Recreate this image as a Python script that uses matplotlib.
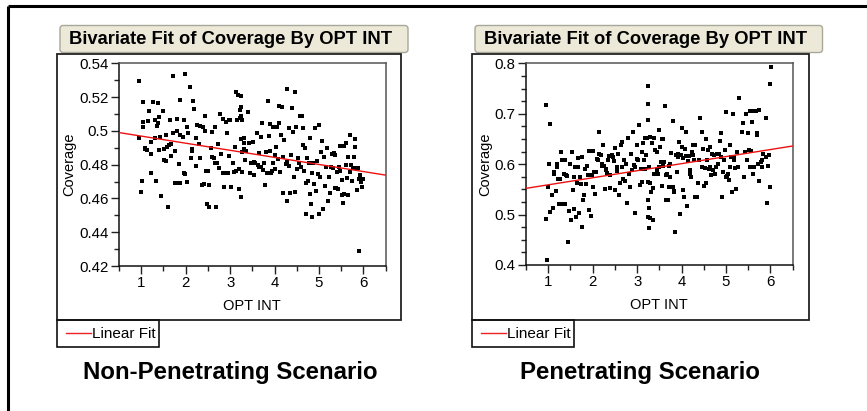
import numpy as np
import matplotlib
matplotlib.use("Agg")
import matplotlib.pyplot as plt
from matplotlib.patches import Rectangle, FancyBboxPatch
from matplotlib.ticker import MultipleLocator

plt.rcParams['font.family'] = ['Liberation Sans', 'DejaVu Sans']

# ---------------- data ----------------
title_text = "Bivariate Fit of Coverage By OPT INT"
x_label = "OPT INT"
y_label = "Coverage"
legend_label = "Linear Fit"
captions = ["Non-Penetrating Scenario", "Penetrating Scenario"]

# Non-penetrating scenario
x_np = [0.955, 0.955, 0.985, 1.01, 1.04, 1.04, 1.04, 1.08, 1.09, 1.13, 1.17, 1.15, 1.21, 1.23, 1.23,
        1.27, 1.30, 1.32, 1.34, 1.37, 1.36, 1.37, 1.40, 1.41, 1.43, 1.45, 1.49, 1.51, 1.52, 1.55,
        1.55, 1.59, 1.61, 1.63, 1.64, 1.67, 1.67, 1.71, 1.72, 1.76, 1.76, 1.81, 1.81, 1.81, 1.85,
        1.87, 1.88, 1.87, 1.93, 1.96, 1.99, 1.97, 1.99, 2.03, 2.04, 2.05, 2.09, 2.11, 2.15, 2.17,
        2.15, 2.18, 2.23, 2.24, 2.26, 2.31, 2.32, 2.33, 2.36, 2.39, 2.41, 2.43, 2.44, 2.45, 2.47,
        2.50, 2.53, 2.53, 2.57, 2.59, 2.60, 2.63, 2.65, 2.66, 2.69, 2.71, 2.72, 2.76, 2.78, 2.80,
        2.83, 2.84, 2.86, 2.89, 2.91, 2.92, 2.95, 2.97, 2.98, 3.00, 3.02, 3.07, 3.08, 3.10, 3.13,
        3.14, 3.16, 3.18, 3.19, 3.21, 3.22, 3.23, 3.24, 3.24, 3.25, 3.25, 3.25, 3.27, 3.27, 3.27,
        3.31, 3.31, 3.32, 3.34, 3.36, 3.40, 3.43, 3.44, 3.47, 3.51, 3.53, 3.54, 3.57, 3.60, 3.62,
        3.64, 3.66, 3.69, 3.70, 3.72, 3.74, 3.77, 3.79, 3.81, 3.83, 3.86, 3.87, 3.89, 3.90, 3.92,
        3.94, 3.96, 3.97, 4.00, 4.01, 4.04, 4.05, 4.07, 4.10, 4.11, 4.13, 4.14, 4.17, 4.18, 4.20,
        4.22, 4.26, 4.27, 4.28, 4.29, 4.32, 4.33, 4.35, 4.37, 4.39, 4.41, 4.43, 4.45, 4.47, 4.49,
        4.51, 4.53, 4.54, 4.58, 4.59, 4.61, 4.63, 4.65, 4.67, 4.69, 4.71, 4.71, 4.74, 4.76, 4.77,
        4.79, 4.80, 4.82, 4.84, 4.85, 4.87, 4.89, 4.91, 4.93, 4.95, 4.97, 4.99, 5.01, 5.03, 5.05,
        5.07, 5.09, 5.12, 5.14, 5.16, 5.19, 5.21, 5.22, 5.25, 5.27, 5.29, 5.31, 5.33, 5.35, 5.37,
        5.39, 5.40, 5.42, 5.45, 5.47, 5.48, 5.51, 5.52, 5.54, 5.56, 5.57, 5.60, 5.61, 5.63, 5.65,
        5.66, 5.69, 5.70, 5.72, 5.75, 5.76, 5.78, 5.80, 5.82, 5.84, 5.86, 5.87, 5.89, 5.91, 5.93,
        5.95, 5.96, 5.98]
y_np = [0.5297, 0.4958, 0.4638, 0.4703, 0.5169, 0.5055, 0.5021, 0.4899, 0.4891, 0.4887, 0.5120, 0.5061,
        0.4934, 0.4865, 0.4751, 0.5169, 0.4956, 0.5064, 0.4703, 0.5163, 0.5029, 0.5049, 0.5080, 0.4887,
        0.4962, 0.4617, 0.5120, 0.4828, 0.4891, 0.4976, 0.4820, 0.4902, 0.4551, 0.4916, 0.5064, 0.4924,
        0.4849, 0.5325, 0.4985, 0.4690, 0.4881, 0.5070, 0.4690, 0.5000, 0.4804, 0.5183, 0.4690, 0.4974,
        0.4966, 0.4749, 0.5337, 0.5064, 0.4745, 0.5025, 0.4696, 0.4989, 0.5260, 0.4838, 0.4891, 0.5179,
        0.4883, 0.5128, 0.4956, 0.4792, 0.5033, 0.4920, 0.4840, 0.5029, 0.4680, 0.5025, 0.4686, 0.5086,
        0.5002, 0.4765, 0.4569, 0.4765, 0.4680, 0.4547, 0.4897, 0.4847, 0.4993, 0.4838, 0.4808, 0.5025,
        0.4547, 0.4808, 0.4920, 0.4782, 0.5100, 0.4863, 0.5072, 0.4749, 0.4670, 0.4749, 0.5051, 0.4987,
        0.4753, 0.5064, 0.4853, 0.5064, 0.4670, 0.4808, 0.4759, 0.4902, 0.5228, 0.4763, 0.5064, 0.5214,
        0.4772, 0.4658, 0.5124, 0.5076, 0.5090, 0.5143, 0.5205, 0.4952, 0.4607, 0.4877, 0.4759, 0.5064,
        0.4956, 0.4926, 0.4895, 0.4828, 0.4883, 0.5112, 0.4926, 0.4749, 0.4812, 0.4936, 0.4814, 0.4737,
        0.4808, 0.4985, 0.4796, 0.4871, 0.4788, 0.4966, 0.4788, 0.5049, 0.4767, 0.4808, 0.4678, 0.4877,
        0.4749, 0.5177, 0.4970, 0.4881, 0.5043, 0.4753, 0.4765, 0.5021, 0.4808, 0.4855, 0.4772, 0.4905,
        0.5021, 0.4834, 0.5147, 0.5049, 0.4759, 0.4976, 0.5141, 0.4630, 0.4847, 0.4946, 0.4802, 0.5246,
        0.4587, 0.4818, 0.5015, 0.4792, 0.4630, 0.4857, 0.5133, 0.4996, 0.4725, 0.5232, 0.4640, 0.5025,
        0.4776, 0.4838, 0.4808, 0.5090, 0.4788, 0.5090, 0.5015, 0.4916, 0.4765, 0.4897, 0.4694, 0.4508,
        0.4838, 0.4705, 0.4812, 0.4627, 0.4956, 0.4567, 0.4749, 0.4492, 0.4808, 0.4686, 0.5015, 0.4646,
        0.4822, 0.4745, 0.4508, 0.5035, 0.4729, 0.4873, 0.4942, 0.4538, 0.4843, 0.4674, 0.4788, 0.4900,
        0.4587, 0.4725, 0.4630, 0.4788, 0.4861, 0.4780, 0.4871, 0.4857, 0.4660, 0.4660, 0.4757, 0.4654,
        0.4788, 0.4913, 0.4765, 0.4709, 0.4620, 0.4575, 0.4911, 0.4624, 0.4796, 0.4930, 0.4723, 0.4620,
        0.4847, 0.4759, 0.4976, 0.4798, 0.4705, 0.4782, 0.4847, 0.4950, 0.4907, 0.4778, 0.4650, 0.4778,
        0.4289, 0.4713, 0.4737, 0.4700, 0.4670, 0.4713]

# Penetrating scenario
x_p = [0.95, 0.95, 0.98, 1.02, 1.00, 1.05, 1.04, 1.09, 1.11, 1.13, 1.14, 1.17, 1.19, 1.20, 1.22,
       1.25, 1.26, 1.29, 1.31, 1.33, 1.35, 1.37, 1.38, 1.40, 1.43, 1.45, 1.47, 1.49, 1.51, 1.53,
       1.55, 1.58, 1.59, 1.61, 1.63, 1.64, 1.66, 1.68, 1.70, 1.71, 1.74, 1.76, 1.77, 1.79, 1.81,
       1.83, 1.86, 1.88, 1.89, 1.91, 1.92, 1.95, 1.96, 1.98, 2.00, 2.01, 2.03, 2.05, 2.07, 2.10,
       2.12, 2.14, 2.15, 2.18, 2.20, 2.21, 2.24, 2.25, 2.27, 2.29, 2.31, 2.33, 2.35, 2.36, 2.38,
       2.40, 2.42, 2.44, 2.46, 2.47, 2.50, 2.51, 2.54, 2.55, 2.57, 2.60, 2.61, 2.63, 2.65, 2.67,
       2.69, 2.71, 2.72, 2.75, 2.77, 2.80, 2.82, 2.84, 2.87, 2.89, 2.91, 2.93, 2.95, 2.96, 2.99,
       3.00, 3.02, 3.05, 3.06, 3.08, 3.10, 3.11, 3.14, 3.15, 3.17, 3.18, 3.20, 3.21, 3.23, 3.24,
       3.25, 3.25, 3.25, 3.25, 3.25, 3.26, 3.26, 3.27, 3.28, 3.29, 3.30, 3.32, 3.33, 3.35, 3.36,
       3.38, 3.39, 3.41, 3.44, 3.45, 3.47, 3.49, 3.50, 3.51, 3.53, 3.55, 3.57, 3.58, 3.59, 3.61,
       3.62, 3.65, 3.66, 3.68, 3.69, 3.71, 3.72, 3.74, 3.75, 3.77, 3.80, 3.81, 3.83, 3.84, 3.86,
       3.87, 3.89, 3.91, 3.93, 3.95, 3.97, 3.98, 4.00, 4.01, 4.03, 4.04, 4.06, 4.07, 4.09, 4.11,
       4.13, 4.14, 4.16, 4.18, 4.20, 4.22, 4.23, 4.25, 4.26, 4.28, 4.30, 4.31, 4.35, 4.37, 4.39,
       4.42, 4.45, 4.47, 4.49, 4.50, 4.52, 4.55, 4.56, 4.58, 4.60, 4.62, 4.64, 4.65, 4.67, 4.69,
       4.71, 4.73, 4.75, 4.77, 4.79, 4.82, 4.84, 4.86, 4.88, 4.89, 4.91, 4.94, 4.95, 4.97, 4.99,
       5.01, 5.03, 5.04, 5.06, 5.08, 5.10, 5.11, 5.13, 5.15, 5.18, 5.19, 5.21, 5.23, 5.25, 5.27,
       5.30, 5.36, 5.38, 5.40, 5.42, 5.46, 5.48, 5.49, 5.51, 5.54, 5.55, 5.57, 5.59, 5.61, 5.63,
       5.64, 5.68, 5.69, 5.70, 5.72, 5.74, 5.75, 5.78, 5.80, 5.82, 5.84, 5.89, 5.90, 5.93, 5.95,
       5.97, 5.98, 6.00, 6.01]
y_p = [0.717, 0.492, 0.409, 0.600, 0.555, 0.679, 0.506, 0.538, 0.513, 0.584, 0.581, 0.547, 0.594, 0.600, 0.571,
       0.520, 0.571, 0.624, 0.609, 0.521, 0.580, 0.609, 0.521, 0.579, 0.577, 0.445, 0.508, 0.601, 0.490, 0.624,
       0.549, 0.574, 0.511, 0.594, 0.495, 0.562, 0.612, 0.594, 0.503, 0.574, 0.561, 0.475, 0.614, 0.528, 0.538,
       0.591, 0.560, 0.597, 0.578, 0.626, 0.509, 0.626, 0.498, 0.578, 0.626, 0.555, 0.584, 0.541, 0.584, 0.611,
       0.608, 0.664, 0.621, 0.618, 0.596, 0.600, 0.637, 0.596, 0.551, 0.591, 0.588, 0.582, 0.608, 0.616, 0.553,
       0.578, 0.616, 0.618, 0.614, 0.606, 0.632, 0.549, 0.587, 0.594, 0.621, 0.538, 0.562, 0.637, 0.594, 0.644,
       0.571, 0.608, 0.566, 0.601, 0.523, 0.652, 0.581, 0.555, 0.621, 0.588, 0.664, 0.599, 0.503, 0.594, 0.637,
       0.611, 0.608, 0.677, 0.559, 0.591, 0.624, 0.565, 0.641, 0.609, 0.651, 0.591, 0.651, 0.618, 0.651, 0.565,
       0.754, 0.719, 0.687, 0.528, 0.496, 0.513, 0.474, 0.594, 0.562, 0.653, 0.494, 0.545, 0.641, 0.553, 0.490,
       0.651, 0.581, 0.628, 0.624, 0.588, 0.581, 0.667, 0.594, 0.635, 0.604, 0.649, 0.556, 0.597, 0.649, 0.604,
       0.715, 0.528, 0.578, 0.581, 0.528, 0.597, 0.555, 0.600, 0.574, 0.622, 0.685, 0.555, 0.547, 0.545, 0.466,
       0.618, 0.584, 0.614, 0.621, 0.644, 0.501, 0.618, 0.634, 0.671, 0.613, 0.549, 0.535, 0.631, 0.616, 0.664,
       0.517, 0.606, 0.616, 0.588, 0.581, 0.574, 0.624, 0.618, 0.637, 0.608, 0.535, 0.637, 0.535, 0.562, 0.608,
       0.692, 0.594, 0.664, 0.631, 0.556, 0.592, 0.649, 0.562, 0.608, 0.628, 0.591, 0.594, 0.635, 0.578, 0.621,
       0.589, 0.618, 0.580, 0.594, 0.621, 0.601, 0.621, 0.646, 0.662, 0.614, 0.535, 0.584, 0.608, 0.628, 0.704,
       0.574, 0.576, 0.581, 0.568, 0.637, 0.594, 0.614, 0.545, 0.699, 0.614, 0.608, 0.592, 0.551, 0.624, 0.594,
       0.732, 0.664, 0.681, 0.574, 0.624, 0.700, 0.608, 0.662, 0.628, 0.594, 0.706, 0.626, 0.684, 0.581, 0.706,
       0.594, 0.706, 0.657, 0.661, 0.601, 0.708, 0.566, 0.604, 0.594, 0.608, 0.621, 0.692, 0.614, 0.523, 0.596,
       0.618, 0.759, 0.555, 0.792]

# linear fits: (intercept, slope)
fit_np = (0.5011, -0.0042)
fit_p = (0.5450, 0.0140)

ylim_np = (0.42, 0.54)
ylim_p = (0.4, 0.8)
xlim_all = (0.5, 6.5)
xticks = [1, 2, 3, 4, 5, 6]
yticks_np = [0.42, 0.44, 0.46, 0.48, 0.50, 0.52, 0.54]
ytick_labels_np = ["0.42", "0.44", "0.46", "0.48", "0.5", "0.52", "0.54"]
yticks_p = [0.4, 0.5, 0.6, 0.7, 0.8]
ytick_labels_p = ["0.4", "0.5", "0.6", "0.7", "0.8"]

# ---------------- figure ----------------
W, H = 867, 411
fig = plt.figure(figsize=(W / 100, H / 100), dpi=100)

# overlay in pixel coordinates for frames / boxes / captions
ov = fig.add_axes([0, 0, 1, 1], zorder=0)
ov.set_xlim(0, W)
ov.set_ylim(H, 0)
ov.axis('off')

# outer page border
ov.plot([8, W], [6, 6], color='black', lw=2.2, solid_capstyle='butt')
ov.plot([8, 8], [6, H], color='black', lw=2.2, solid_capstyle='butt')


def panel(px0, px1, title_x0, title_x1, legend_x1, cap_cx, caption):
    # title box
    tb = FancyBboxPatch((title_x0, 25.5), title_x1 - title_x0, 27,
                        boxstyle="round,pad=0,rounding_size=3",
                        facecolor='#ECE9D8', edgecolor='#A8A79A', lw=1.0)
    ov.add_patch(tb)
    ov.text((title_x0 + title_x1) / 2 - 3, 39.5, title_text, ha='center', va='center',
            fontsize=13.2, fontweight='bold', color='black')
    # panel frame
    ov.add_patch(Rectangle((px0, 54), px1 - px0, 266, fill=False,
                           edgecolor='#222222', lw=1.3))
    # legend box
    ov.add_patch(Rectangle((px0, 320), legend_x1 - px0, 27, fill=False,
                           edgecolor='#111111', lw=1.2))
    ov.plot([px0 + 9, px0 + 34], [333, 333], color='#EE2222', lw=1.0)
    ov.text(px0 + 35, 334, legend_label, ha='left', va='center', fontsize=11.0)
    # caption
    ov.text(cap_cx, 372, caption, ha='center', va='center', fontsize=17.3,
            fontweight='bold')


panel(57, 401, 60, 408, 158.5, 230.5, captions[0])
panel(472, 809, 475, 822.5, 573.5, 640.5, captions[1])


def make_axes(x0px, x1px, y0px, y1px, xs, ys, fit, ylim, yticks, ylabels, yminor):
    ax = fig.add_axes([x0px / W, 1 - y1px / H, (x1px - x0px) / W, (y1px - y0px) / H], zorder=1)
    ax.patch.set_alpha(0)
    ax.scatter(xs, ys, marker='s', s=6.5, color='black', linewidths=0, zorder=3)
    xx = np.array(xlim_all)
    ax.plot(xx, fit[0] + fit[1] * xx, color='#EE1111', lw=1.0, zorder=4)
    ax.set_xlim(*xlim_all)
    ax.set_ylim(*ylim)
    ax.set_xticks(xticks)
    ax.set_xticklabels([str(t) for t in xticks])
    ax.set_yticks(yticks)
    ax.set_yticklabels(ylabels)
    ax.xaxis.set_minor_locator(MultipleLocator(0.5))
    ax.yaxis.set_minor_locator(MultipleLocator(yminor))
    ax.tick_params(which='major', direction='out', length=6, width=1.0, pad=1.5,
                   labelsize=10.8, color='#222222')
    ax.tick_params(which='minor', direction='out', length=3.5, width=1.0, color='#222222')
    for side in ('left', 'bottom'):
        ax.spines[side].set_color('#111111')
        ax.spines[side].set_linewidth(1.1)
    for side in ('top', 'right'):
        ax.spines[side].set_color('#555555')
        ax.spines[side].set_linewidth(1.1)
    ax.set_xlabel(x_label, fontsize=10.5, labelpad=6)
    ax.set_ylabel(y_label, fontsize=10.5, labelpad=2)
    return ax


make_axes(119, 385.7, 63.3, 266, x_np, y_np, fit_np, ylim_np, yticks_np, ytick_labels_np, 0.01)
make_axes(526, 792.7, 63.3, 265, x_p, y_p, fit_p, ylim_p, yticks_p, ytick_labels_p, 0.025)

fig.savefig("out.png", dpi=100)
